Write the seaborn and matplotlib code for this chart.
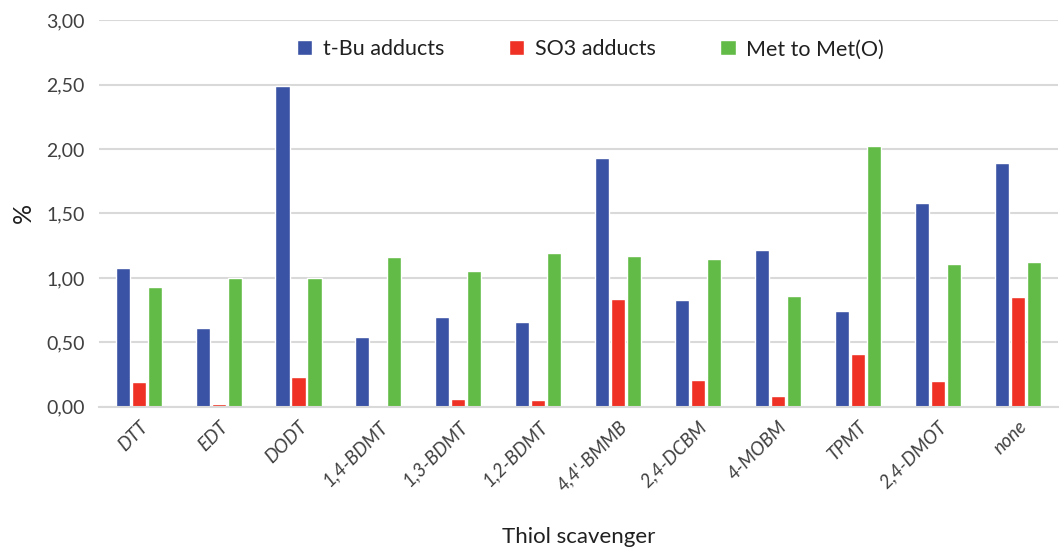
import numpy as np
import pandas as pd
import matplotlib
matplotlib.use("Agg")
import matplotlib.pyplot as plt
from matplotlib.ticker import FuncFormatter
import seaborn as sns

SCAVENGERS = ["DTT", "EDT", "DODT", "1,4-BDMT", "1,3-BDMT", "1,2-BDMT",
              "4,4'-BMMB", "2,4-DCBM", "4-MOBM", "TPMT", "2,4-DMOT", "none"]
SERIES = ["t-Bu adducts", "SO3 adducts", "Met to Met(O)"]
tbu   = [1.08, 0.61, 2.49, 0.54, 0.70, 0.66, 1.93, 0.83, 1.22, 0.74, 1.58, 1.89]
so3   = [0.19, 0.025, 0.23, 0.015, 0.06, 0.05, 0.84, 0.21, 0.08, 0.41, 0.20, 0.85]
metox = [0.93, 1.00, 1.00, 1.16, 1.05, 1.19, 1.17, 1.15, 0.86, 2.02, 1.11, 1.12]
COLORS = ["#3A53A4", "#EE3124", "#62BB46"]

df = pd.DataFrame({"scavenger": SCAVENGERS * 3,
                   "series": np.repeat(SERIES, len(SCAVENGERS)),
                   "value": tbu + so3 + metox})

sns.set_theme(style="white")
plt.rcParams["font.family"] = ["Lato", "DejaVu Sans"]

fig = plt.figure(figsize=(10.61, 5.58), dpi=100)
ax = fig.add_axes([0.093, 0.271, 0.904, 0.693])

sns.barplot(data=df, x="scavenger", y="value", hue="series", palette=COLORS,
            width=0.6, gap=0.12, saturation=1, ax=ax, errorbar=None)

ax.set_ylim(0, 3.0)
ax.set_yticks(np.arange(0, 3.01, 0.5))
ax.yaxis.set_major_formatter(FuncFormatter(lambda v, _: f"{v:.2f}".replace(".", ",")))
ax.grid(axis="y", color="#d9d9d9", linewidth=1.5)
ax.set_axisbelow(True)
for s in ["left", "right", "top"]:
    ax.spines[s].set_visible(False)
ax.spines["bottom"].set_color("#d9d9d9")
ax.spines["bottom"].set_linewidth(1.5)
ax.tick_params(axis="y", labelsize=14, colors="#404040", length=0, pad=10)
ax.tick_params(axis="x", length=0, pad=8)
ax.set_xlim(-0.5, len(SCAVENGERS) - 0.5)
for lbl in ax.get_xticklabels():
    lbl.set_rotation(45)
    lbl.set_ha("right")
    lbl.set_rotation_mode("anchor")
    lbl.set_fontstyle("italic")
    lbl.set_fontsize(13.5)
    lbl.set_color("#404040")

ax.set_ylabel("%", fontsize=18, color="#202020", labelpad=8)
ax.set_xlabel("Thiol scavenger", fontsize=16, color="#202020")
ax.xaxis.set_label_coords(0.5, -0.31)

ax.legend(loc="upper center", bbox_to_anchor=(0.513, 1.0), ncol=3, frameon=False,
          fontsize=15.5, handlelength=0.7, handleheight=0.7, columnspacing=3.0,
          handletextpad=0.5, labelcolor="#202020")

fig.savefig("out.png", dpi=100)
